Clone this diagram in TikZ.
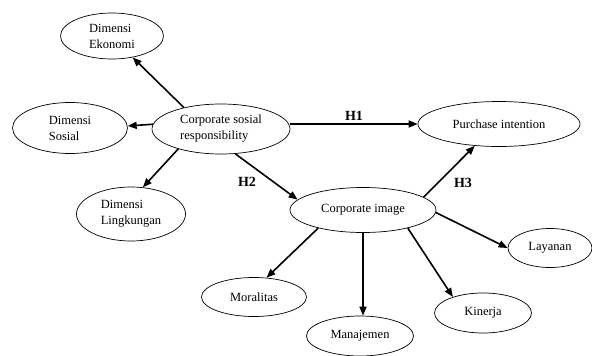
\documentclass[tikz,border=0pt]{standalone}
\usepackage{fontspec}
\setmainfont{Liberation Serif}
\usetikzlibrary{shapes.geometric,arrows.meta}
\begin{document}
\begin{tikzpicture}[x=1pt,y=-1pt,
        konstruk/.style={draw,ellipse,inner sep=0pt,line width=0.7pt,
            font=\fontsize{12.5}{16}\selectfont,align=left},
        panah/.style={-{Triangle[length=9pt,width=7pt]},line width=1.6pt},
        hipo/.style={font=\fontsize{14}{16}\selectfont\bfseries}]
        \useasboundingbox (0,0) rectangle (592,356);

        \node[konstruk,minimum width=103,minimum height=46] (eko) at (112,36) {Dimensi\\Ekonomi};
        \node[konstruk,minimum width=115,minimum height=51] (sos) at (70,128) {Dimensi\\Sosial};
        \node[konstruk,minimum width=109,minimum height=54] (ling) at (131,214) {Dimensi\\Lingkungan};
        \node[konstruk,minimum width=138,minimum height=50] (csr) at (221,129) {Corporate sosial\\responsibility};

        \node[konstruk,minimum width=162,minimum height=45] (pi) at (499,124) {Purchase intention};
        \node[konstruk,minimum width=146,minimum height=45] (ci) at (363,210) {Corporate image};

        \node[konstruk,minimum width=105,minimum height=39] (mor) at (254,297) {Moralitas};
        \node[konstruk,minimum width=107,minimum height=40] (man) at (360,336) {Manajemen};
        \node[konstruk,minimum width=97,minimum height=40] (kin) at (483,313) {Kinerja};
        \node[konstruk,minimum width=84,minimum height=39] (lay) at (550,248) {Layanan};

        \node[hipo] (h1) at (354,116) {H1};
        \node[hipo] (h2) at (247,182) {H2};
        \node[hipo] (h3) at (463,183) {H3};

        % dimensi CSR
        \draw[panah] (csr.150) -- (eko.314);
        \draw[panah] (csr.176) -- (sos.2);
        \draw[panah] (csr.205) -- (ling.66);

        % hipotesis
        \draw[panah] (csr.east |- pi.west) -- (pi.west);
        \draw[panah] (csr.300) -- (ci.171);
        \draw[panah] (ci.12) -- (pi.222);

        % dimensi corporate image
        \draw[panah] (ci.202) -- (mor.57);
        \draw[panah] (ci.south) -- (ci.south |- man.north);
        \draw[panah] (ci.338) -- (kin.152);
        \draw[panah] (ci.358) -- (lay.180);
    \end{tikzpicture}
\end{document}
